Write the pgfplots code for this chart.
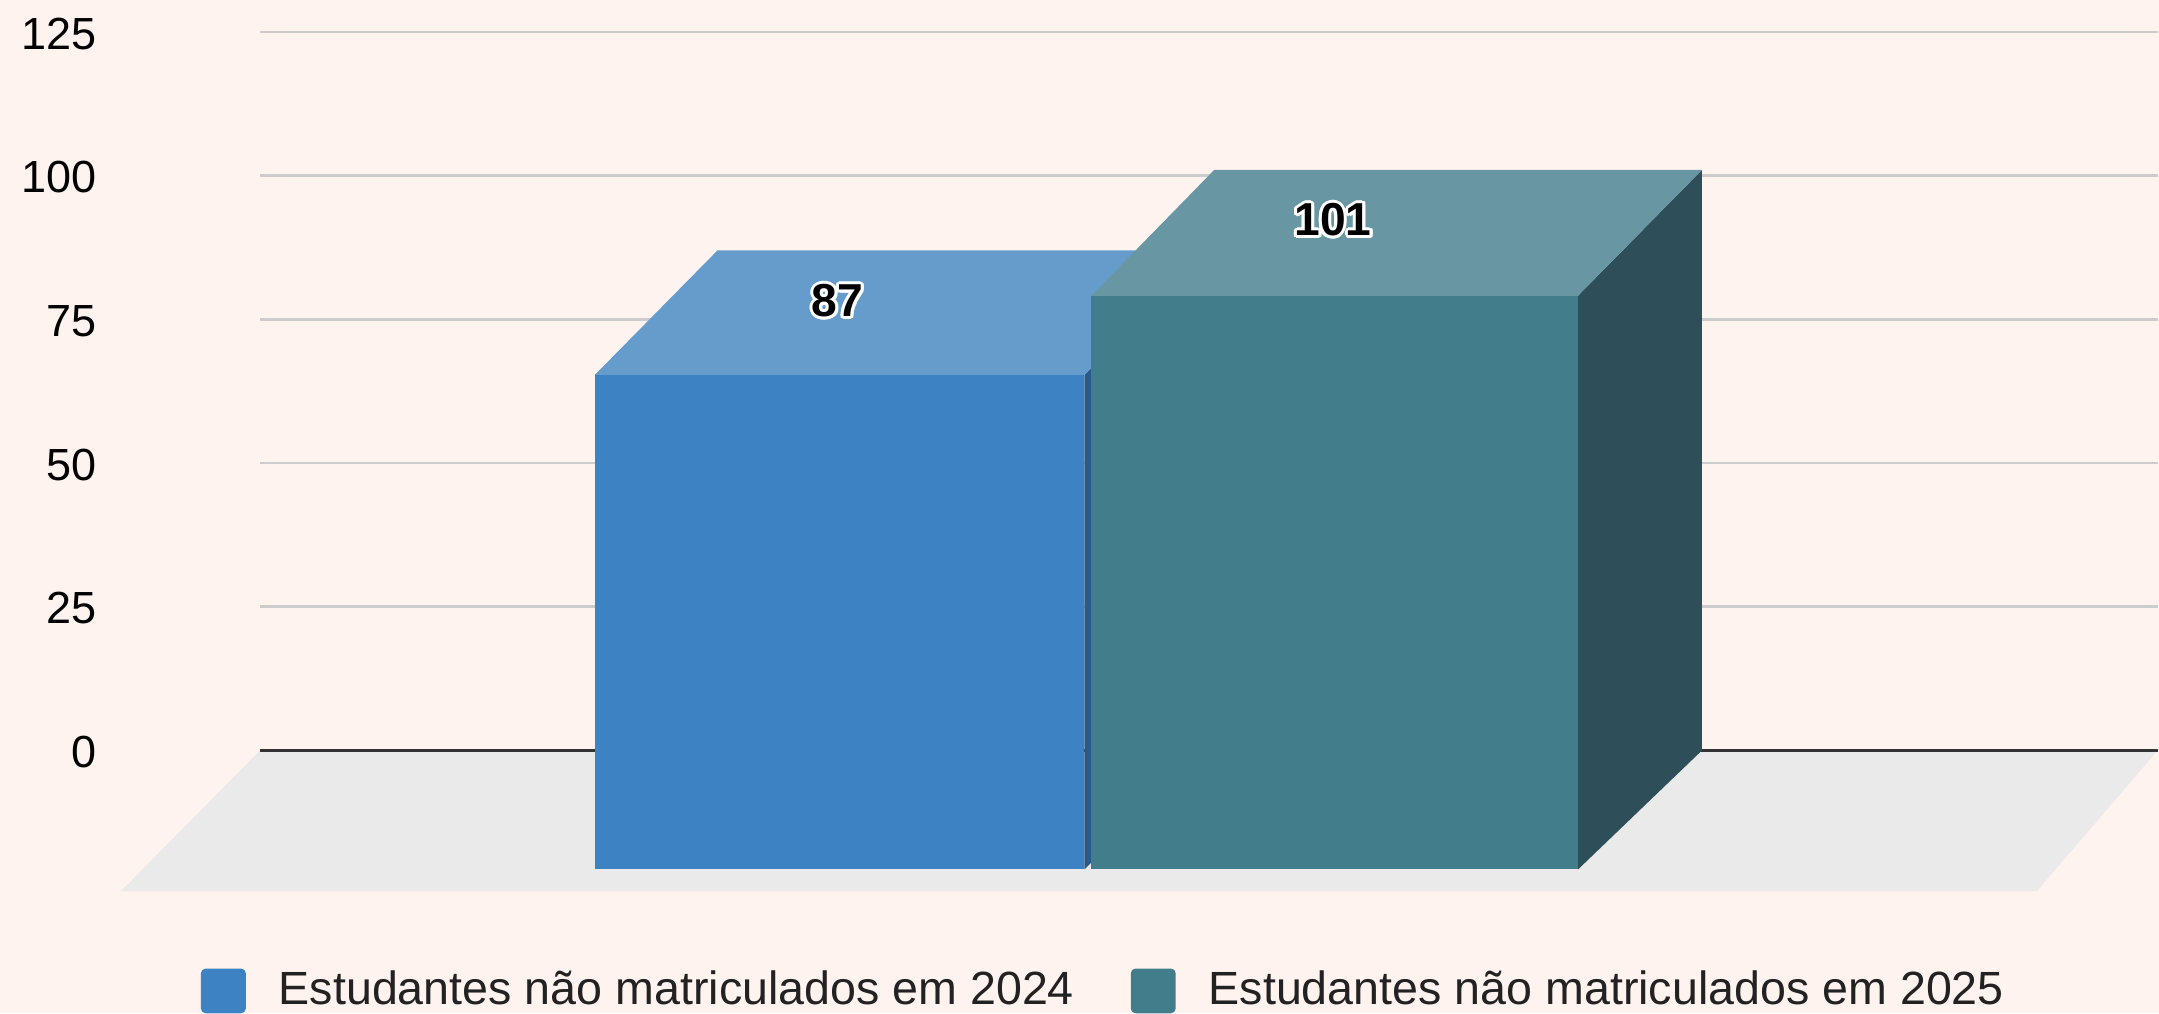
\documentclass[border=0pt]{standalone}
\usepackage{fontspec}
\setmainfont{Liberation Sans}
\usepackage{pgfplots}
\pgfplotsset{compat=1.18}
\usetikzlibrary{backgrounds}
\definecolor{bg}{HTML}{FFF3EF}
\definecolor{floorc}{HTML}{EAEAEA}
\definecolor{gridc}{HTML}{CCCCCC}
\definecolor{zeroc}{HTML}{333333}
\definecolor{textc}{HTML}{222222}
\definecolor{aFront}{HTML}{3D82C2}
\definecolor{aTop}{HTML}{659CCB}
\definecolor{aSide}{HTML}{2A5A8A}
\definecolor{bFront}{HTML}{427D8B}
\definecolor{bTop}{HTML}{6896A3}
\definecolor{bSide}{HTML}{2E4F59}
\newbox\halobox
\newlength\hw \setlength\hw{0.75bp}
\newcommand\hcopy[2]{\rlap{\kern#1\raisebox{#2}{\textcolor{white}{\copy\halobox}}}}
\newcommand\halo[1]{\begingroup\setbox\halobox\hbox{#1}%
 \hcopy{\hw}{0pt}\hcopy{-\hw}{0pt}\hcopy{0pt}{\hw}\hcopy{0pt}{-\hw}%
 \hcopy{0.7\hw}{0.7\hw}\hcopy{-0.7\hw}{0.7\hw}\hcopy{0.7\hw}{-0.7\hw}\hcopy{-0.7\hw}{-0.7\hw}%
 \hcopy{0.4\hw}{0.9\hw}\hcopy{-0.4\hw}{0.9\hw}\hcopy{0.4\hw}{-0.9\hw}\hcopy{-0.4\hw}{-0.9\hw}%
 \hcopy{0.9\hw}{0.4\hw}\hcopy{-0.9\hw}{0.4\hw}\hcopy{0.9\hw}{-0.4\hw}\hcopy{-0.9\hw}{-0.4\hw}%
 \textcolor{black}{\copy\halobox}\endgroup}
\begin{document}
\begin{tikzpicture}[background rectangle/.style={fill=bg, draw=none}, show background rectangle, inner frame sep=0pt]
\begin{axis}[
  scale only axis, width=474.75bp, height=179.75bp,
  xmin=260, xmax=2159, ymin=0, ymax=125,
  axis lines=left, axis line style={draw=none}, tick style={draw=none},
  xtick=\empty, ytick={0,25,50,75,100,125},
  ymajorgrids, grid style={color=gridc, line width=0.65bp},
  clip=false,
  /pgf/number format/assume math mode=true,
  yticklabel style={anchor=east, inner sep=0pt, xshift=-38.5bp, yshift=-0.4bp, font=\fontsize{11.3}{12}\selectfont, text=black},
  legend image code/.code={\fill[#1, rounded corners=1.2bp] (0bp,-5.6bp) rectangle (11.25bp,5.6bp);},
  legend style={at={(axis cs:201,-45.72)}, anchor=south west, draw=none, fill=none,
    inner sep=0pt, outer sep=0pt, legend columns=2,
    nodes={inner sep=0pt, font=\fontsize{11.7}{13}\selectfont, text=textc},
    /tikz/every odd column/.append style={column sep=8.25bp},
    /tikz/every even column/.append style={column sep=14.2bp}},
  legend cell align=left,
]
% frame of the picture (invisible)
\addplot[draw=none, forget plot] coordinates {(0,130.56) (2159,-45.72)};
% floor
\addplot[fill=floorc, draw=none, forget plot] coordinates {(260,0) (2159,0) (2038,-24.5) (121,-24.5)} -- cycle;
% zero line
\addplot[draw=zeroc, line width=0.7bp, forget plot] coordinates {(260,0) (2159,0)};
% bar 1: value 87
\addplot[fill=aSide, draw=none, forget plot] coordinates {(1085,-20.7) (1208,0) (1208,87) (1085,65.3)} -- cycle;
\addplot[fill=aTop, draw=none, forget plot] coordinates {(595,65.3) (718,87) (1208,87) (1085,65.3)} -- cycle;
\addplot[fill=aFront, draw=none, forget plot] coordinates {(595,-20.7) (1085,-20.7) (1085,65.3) (595,65.3)} -- cycle;
% bar 2: value 101
\addplot[fill=bSide, draw=none, forget plot] coordinates {(1579,-20.7) (1703,0) (1703,101) (1579,79.1)} -- cycle;
\addplot[fill=bTop, draw=none, forget plot] coordinates {(1092,79.1) (1215,101) (1703,101) (1579,79.1)} -- cycle;
\addplot[fill=bFront, draw=none, forget plot] coordinates {(1092,-20.7) (1579,-20.7) (1579,79.1) (1092,79.1)} -- cycle;
% value labels
\addplot[draw=none, mark=none, forget plot, point meta=explicit symbolic,
  nodes near coords={\halo{\pgfplotspointmeta}},
  every node near coord/.append style={anchor=center, inner sep=0pt,
    font=\bfseries\fontsize{11.6}{12}\selectfont}]
  table[meta=lab] {
x y lab
838 78.2 87
1334 92.3 101
};
\addlegendimage{fill=aFront, draw=none}
\addlegendentry{Estudantes não matriculados em 2024}
\addlegendimage{fill=bFront, draw=none}
\addlegendentry{Estudantes não matriculados em 2025}
\end{axis}
\end{tikzpicture}
\end{document}
